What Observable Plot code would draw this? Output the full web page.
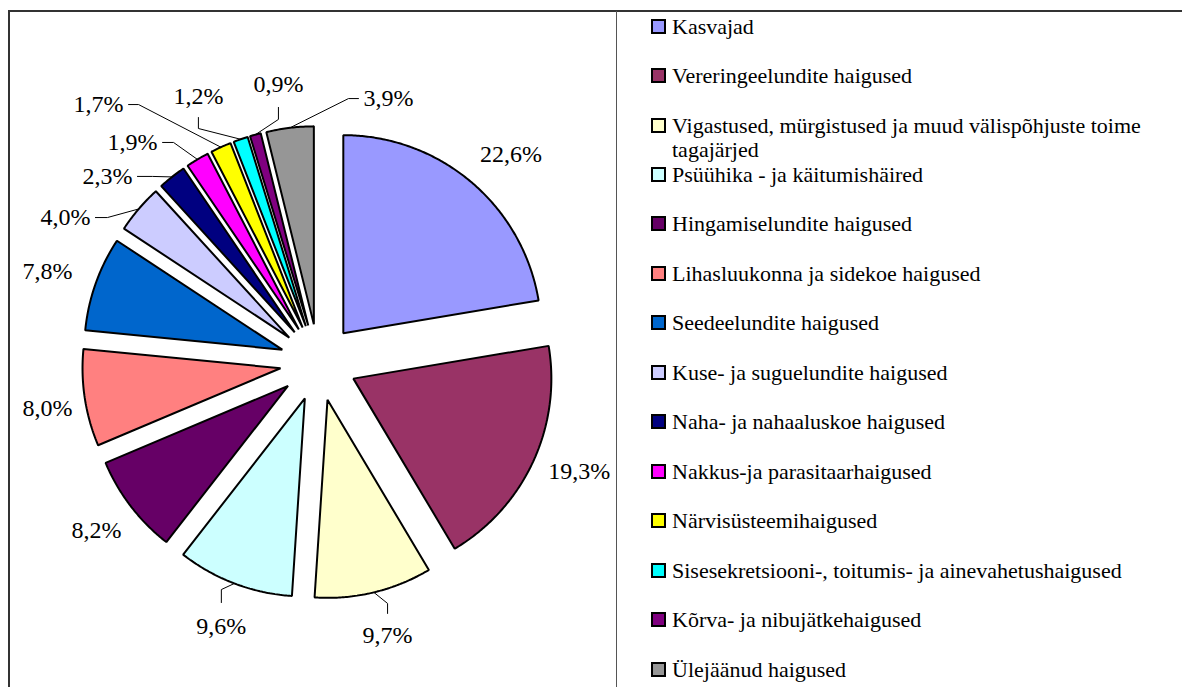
<!DOCTYPE html>
<html>
<head>
<meta charset="utf-8">
<script src="https://cdn.jsdelivr.net/npm/d3@7"></script>
<script src="https://cdn.jsdelivr.net/npm/@observablehq/plot@0.6"></script>
<style>
  html, body { margin: 0; padding: 0; background: #fff; }
  #wrap { position: relative; width: 1182px; height: 687px; overflow: hidden; font-family: "Liberation Serif", Tinos, "Times New Roman", Times, "DejaVu Serif", serif; }
  #chart { position: absolute; left: 0; top: 0; }
  .frame-top { position: absolute; left: 9px; top: 10px; width: 1173px; height: 0; border-top: 2px solid #333; }
  .frame-left { position: absolute; left: 8px; top: 10px; width: 0; height: 677px; border-left: 2px solid #333; }
  .frame-mid { position: absolute; left: 616px; top: 11px; width: 0; height: 676px; border-left: 1px solid #555; }
  .leg { position: absolute; left: 651px; width: 521px; padding-left: 21px; text-indent: -21px; font-size: 22px; line-height: 24px; color: #000; box-sizing: border-box; }
  .sw { display: inline-block; width: 11px; height: 11px; border: 2px solid #000; margin-right: 6px; vertical-align: baseline; text-indent: 0; }
</style>
</head>
<body>
<div id="wrap">
  <div id="chart"></div>
  <div class="frame-top"></div>
  <div class="frame-left"></div>
  <div class="frame-mid"></div>
  <div id="legend"></div>
</div>
<script>
// ---- data ----
const categories = [
  "Kasvajad",
  "Vereringeelundite haigused",
  "Vigastused, mürgistused ja muud välispõhjuste toime tagajärjed",
  "Psüühika - ja käitumishäired",
  "Hingamiselundite haigused",
  "Lihasluukonna ja sidekoe haigused",
  "Seedeelundite haigused",
  "Kuse- ja suguelundite haigused",
  "Naha- ja nahaaluskoe haigused",
  "Nakkus-ja parasitaarhaigused",
  "Närvisüsteemihaigused",
  "Sisesekretsiooni-, toitumis- ja ainevahetushaigused",
  "Kõrva- ja nibujätkehaigused",
  "Ülejäänud haigused"
];
const values = [22.6, 19.3, 9.7, 9.6, 8.2, 8.0, 7.8, 4.0, 2.3, 1.9, 1.7, 1.2, 0.9, 3.9];
const valueLabels = ["22,6%", "19,3%", "9,7%", "9,6%", "8,2%", "8,0%", "7,8%", "4,0%", "2,3%", "1,9%", "1,7%", "1,2%", "0,9%", "3,9%"];
const colors = ["#9999FF", "#993366", "#FFFFCC", "#CCFFFF", "#660066", "#FF8080", "#0066CC",
                "#CCCCFF", "#000080", "#FF00FF", "#FFFF00", "#00FFFF", "#800080", "#969696"];

// ---- layout (label placement in polar units: angle deg clockwise from top, distance in radii) ----
const labelAngle = [42.7, 112.7, 165.8, 200.2, 232.9, 260.4, 288.6, 299.8, 311.4, 319.8, 319.55, 335.7, 351.8, 14.85];
const labelDist  = [1.434, 1.428, 1.422, 1.421, 1.406, 1.388, 1.444, 1.473, 1.421, 1.455, 1.712, 1.474, 1.419, 1.379];
// leader: kind and [attach px offset, elbow px offset]
const leaderKind = ["none", "none", "bottom", "bottom", "none", "none", "none", "left", "left", "left", "left", "top", "top", "right"];
const leaderOff  = [null, null, [-22, -32], [-24, -37], null, null, null, [30, 42], [30, 45], [30, 41], [30, 40], [21, 32], [23, 35], [-30, -40]];

const W = 1182, H = 687, CX = 318, CY = 362, R = 198, EXPLODE = 0.194;
const SERIF = "'Liberation Serif', Tinos, 'Times New Roman', Times, 'DejaVu Serif', serif";

// ---- geometry ----
const data = categories.map((c, i) => ({category: c, value: values[i], color: colors[i], label: valueLabels[i], i}));
const arcs = d3.pie().sort(null).value(d => d.value)(data);
const rad = a => a * Math.PI / 180;

const slices = arcs.map(a => {
  const m = (a.startAngle + a.endAngle) / 2;
  const ox = EXPLODE * Math.sin(m), oy = EXPLODE * Math.cos(m);
  const pts = [{x: ox, y: oy}];
  const n = Math.max(3, Math.ceil((a.endAngle - a.startAngle) / rad(0.5)));
  for (let k = 0; k <= n; k++) {
    const t = a.startAngle + (a.endAngle - a.startAngle) * k / n;
    pts.push({x: ox + Math.sin(t), y: oy + Math.cos(t)});
  }
  return {d: a.data, m, ox, oy, pts};
});

const labelData = slices.map((s, i) => ({
  text: s.d.label,
  x: labelDist[i] * Math.sin(rad(labelAngle[i])),
  y: labelDist[i] * Math.cos(rad(labelAngle[i]))
}));

const leaderPts = [];
slices.forEach((s, i) => {
  const kind = leaderKind[i];
  if (kind === "none") return;
  const L = labelData[i];
  const [a, e] = leaderOff[i];
  let p1, p2;
  if (kind === "left" || kind === "right") {
    p1 = {x: L.x + a / R, y: L.y};
    p2 = {x: L.x + e / R, y: L.y};
  } else {
    p1 = {x: L.x, y: L.y - a / R};
    p2 = {x: L.x, y: L.y - e / R};
  }
  const p3 = {x: s.ox + Math.sin(s.m), y: s.oy + Math.cos(s.m)};
  [p1, p2, p3].forEach(p => leaderPts.push({id: i, ...p}));
});

const marks = slices.map(s => Plot.line(s.pts, {
  x: "x", y: "y", fill: s.d.color, stroke: "#000", strokeWidth: 2,
  strokeLinejoin: "miter", curve: "linear-closed"
}));
marks.push(Plot.line(leaderPts, {x: "x", y: "y", z: "id", stroke: "#000", strokeWidth: 1}));
marks.push(Plot.text(labelData, {
  x: "x", y: "y", text: "text", fontSize: 24,
  fontFamily: SERIF,
  fill: "#000", textAnchor: "middle", lineAnchor: "middle"
}));

const chart = Plot.plot({
  width: W, height: H,
  margin: 0,
  x: {domain: [-CX / R, (W - CX) / R], range: [0, W], axis: null},
  y: {domain: [-(H - CY) / R, CY / R], range: [H, 0], axis: null},
  style: {background: "transparent", fontFamily: SERIF},
  marks
});
document.getElementById("chart").appendChild(chart);

// ---- legend ----
const legend = document.getElementById("legend");
categories.forEach((c, i) => {
  const baseline = 34 + i * 49.46;
  const div = document.createElement("div");
  div.className = "leg";
  div.style.top = (baseline - 19.4) + "px";
  const sw = document.createElement("span");
  sw.className = "sw";
  sw.style.background = colors[i];
  div.appendChild(sw);
  div.appendChild(document.createTextNode(c));
  legend.appendChild(div);
});
</script>
</body>
</html>
